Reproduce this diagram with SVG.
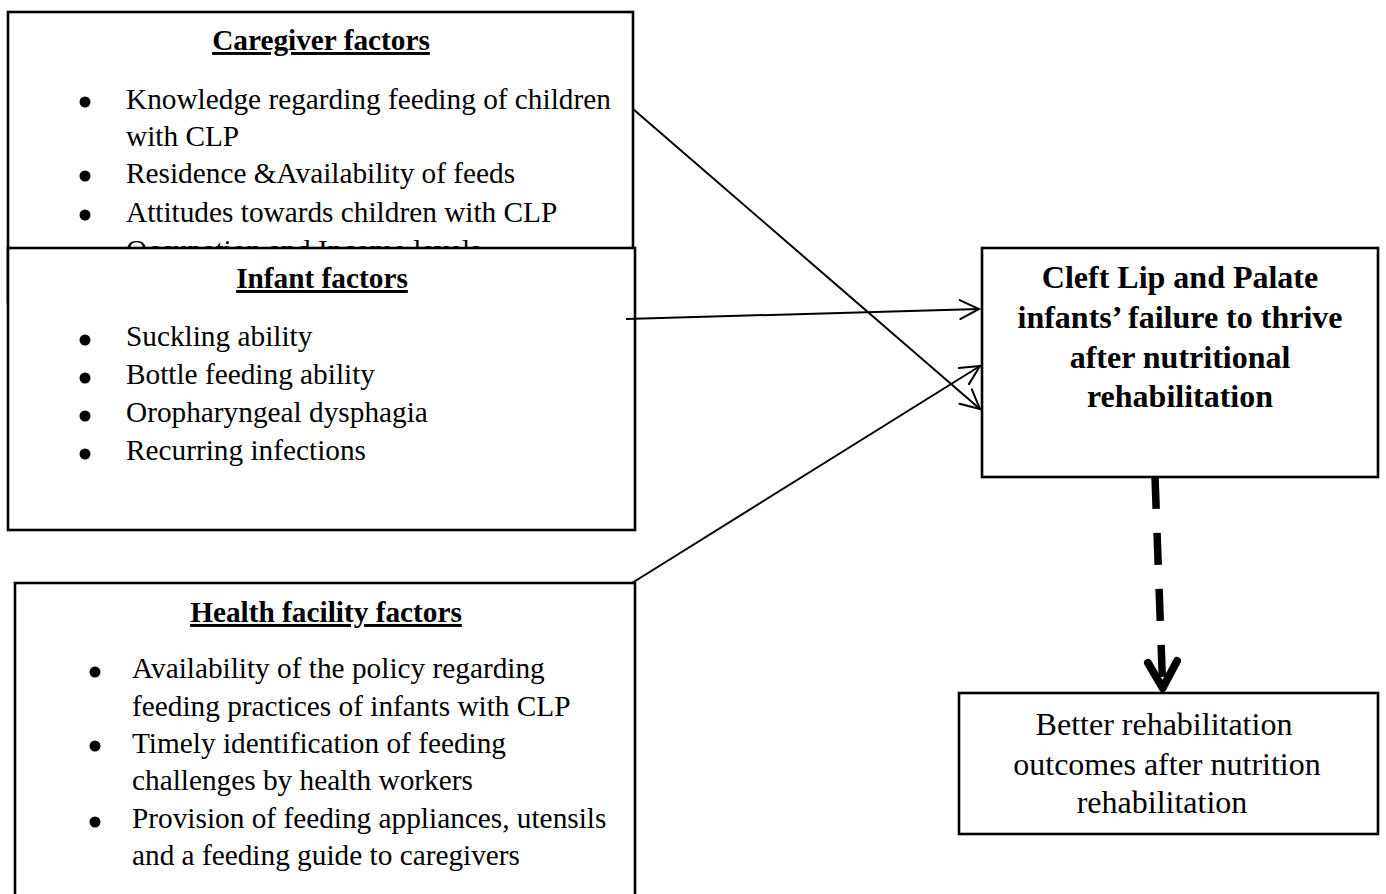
<svg xmlns="http://www.w3.org/2000/svg" width="1386" height="894" viewBox="0 0 1386 894">
  <style>
    .box { fill: #ffffff; stroke: #000000; stroke-width: 2.6; }
    .t { font-family: "Liberation Serif", "Times New Roman", serif; font-size: 29.3px; fill: #000000; }
    .h { font-family: "Liberation Serif", "Times New Roman", serif; font-size: 29.3px; font-weight: bold; text-decoration: underline; fill: #000000; text-anchor: middle; }
    .cb { font-family: "Liberation Serif", "Times New Roman", serif; font-size: 32px; font-weight: bold; fill: #000000; text-anchor: middle; }
    .cr { font-family: "Liberation Serif", "Times New Roman", serif; font-size: 32px; fill: #000000; text-anchor: middle; }
    .bul { fill: #000000; }
    .conn { stroke: #000000; stroke-width: 2; fill: none; }
  </style>
  <defs>
    <marker id="open" markerUnits="userSpaceOnUse" markerWidth="1" markerHeight="1" refX="0" refY="0" orient="auto" overflow="visible">
      <path d="M-19,-9.5 L0,0 L-19,9.5" fill="none" stroke="#000000" stroke-width="2" stroke-linecap="round" stroke-linejoin="miter"/>
    </marker>
    <clipPath id="cgclip">
      <rect x="8" y="12" width="625" height="236"/>
    </clipPath>
  </defs>

  <g id="caregiver">
    <rect class="box" x="8" y="12" width="625" height="290"/>
    <text class="h" x="321" y="50">Caregiver factors</text>
    <circle class="bul" cx="85" cy="102" r="5.5"/>
    <text class="t" x="126" y="109">Knowledge regarding feeding of children</text>
    <text class="t" x="126" y="146">with CLP</text>
    <circle class="bul" cx="85" cy="176" r="5.5"/>
    <text class="t" x="126" y="183">Residence &amp;Availability of feeds</text>
    <circle class="bul" cx="85" cy="215" r="5.5"/>
    <text class="t" x="126" y="222">Attitudes towards children with CLP</text>
    <g clip-path="url(#cgclip)">
      <text class="t" x="126" y="260">Occupation and Income levels</text>
    </g>
  </g>

  <g id="infant">
    <rect class="box" x="8" y="248" width="627" height="282"/>
    <text class="h" x="322" y="288">Infant factors</text>
    <circle class="bul" cx="85" cy="340" r="5.5"/>
    <text class="t" x="126" y="346">Suckling ability</text>
    <circle class="bul" cx="85" cy="378" r="5.5"/>
    <text class="t" x="126" y="384">Bottle feeding ability</text>
    <circle class="bul" cx="85" cy="416" r="5.5"/>
    <text class="t" x="126" y="422">Oropharyngeal dysphagia</text>
    <circle class="bul" cx="85" cy="454" r="5.5"/>
    <text class="t" x="126" y="460">Recurring infections</text>
  </g>

  <g id="health">
    <rect class="box" x="15" y="583" width="620" height="330"/>
    <text class="h" x="326" y="622">Health facility factors</text>
    <circle class="bul" cx="95" cy="672" r="5.5"/>
    <text class="t" x="132" y="678">Availability of the policy regarding</text>
    <text class="t" x="132" y="716">feeding practices of infants with CLP</text>
    <circle class="bul" cx="95" cy="746" r="5.5"/>
    <text class="t" x="132" y="753">Timely identification of feeding</text>
    <text class="t" x="132" y="790">challenges by health workers</text>
    <circle class="bul" cx="95" cy="822" r="5.5"/>
    <text class="t" x="132" y="828">Provision of feeding appliances, utensils</text>
    <text class="t" x="132" y="865">and a feeding guide to caregivers</text>
  </g>

  <g id="outcome">
    <rect class="box" x="982" y="248" width="396" height="229"/>
    <text class="cb" x="1180" y="288">Cleft Lip and Palate</text>
    <text class="cb" x="1180" y="328">infants’ failure to thrive</text>
    <text class="cb" x="1180" y="368">after nutritional</text>
    <text class="cb" x="1180" y="407">rehabilitation</text>
  </g>

  <g id="better">
    <rect class="box" x="959" y="693" width="419" height="141"/>
    <text class="cr" x="1164" y="735">Better rehabilitation</text>
    <text class="cr" x="1167" y="775">outcomes after nutrition</text>
    <text class="cr" x="1162" y="813">rehabilitation</text>
  </g>

  <g id="connectors">
    <line class="conn" x1="633" y1="109" x2="980" y2="409" marker-end="url(#open)"/>
    <line class="conn" x1="626" y1="319" x2="979" y2="309" marker-end="url(#open)"/>
    <line class="conn" x1="632" y1="583" x2="980" y2="366" marker-end="url(#open)"/>
    <line x1="1155" y1="477" x2="1162.7" y2="688" stroke="#000000" stroke-width="7.5" stroke-dasharray="32 24" fill="none"/>
    <path d="M1148,663 L1162.7,688 L1177,661" fill="none" stroke="#000000" stroke-width="8" stroke-linecap="round" stroke-linejoin="round"/>
  </g>
</svg>
